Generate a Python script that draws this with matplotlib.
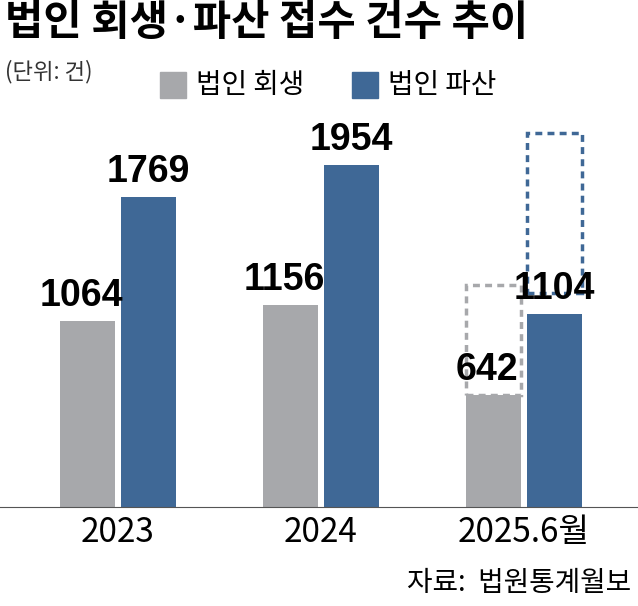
import matplotlib
matplotlib.use("Agg")
import matplotlib.pyplot as plt
from matplotlib.patches import Rectangle

plt.rcParams['font.family'] = ['Noto Sans CJK KR', 'DejaVu Sans']

years = ["2023", "2024", "2025.6월"]
rehab = [1064, 1156, 642]
bankrupt = [1769, 1954, 1104]
proj_rehab = 1270
proj_bankrupt = 2140
gray = "#a7a8ab"
blue = "#3f6896"

fig = plt.figure(figsize=(6.38, 6.06), dpi=100)
ax = fig.add_axes([0, 99/606, 1, 407/606])
ax.set_xlim(-0.581, 2.562)
ax.set_ylim(0, 2326)
w = 0.271; off = 0.151
numfont = ['Liberation Sans Narrow', 'Liberation Sans']
for i in range(3):
    ax.bar(i - off, rehab[i], w, color=gray)
    ax.bar(i + off, bankrupt[i], w, color=blue)
    ax.text(i - off - 0.03, rehab[i] + 40, str(rehab[i]), ha='center', va='bottom',
            fontsize=27, fontweight='bold', family=numfont)
    ax.text(i + off, bankrupt[i] + 40, str(bankrupt[i]), ha='center', va='bottom',
            fontsize=27, fontweight='bold', family=numfont)
ax.add_patch(Rectangle((2 - off - w/2, rehab[2]), w, proj_rehab - rehab[2], fill=False,
                       ls=(0, (2, 1.5)), lw=2.5, ec=gray))
ax.add_patch(Rectangle((2 + off - w/2, bankrupt[2] + 120), w, proj_bankrupt - bankrupt[2] - 120,
                       fill=False, ls=(0, (2, 1.5)), lw=2.5, ec=blue))
for s in ['top', 'right', 'left']:
    ax.spines[s].set_visible(False)
ax.spines['bottom'].set_color('#555555')
ax.set_yticks([])
ax.set_xticks(range(3))
ax.set_xticklabels(years, fontsize=24)
ax.tick_params(axis='x', length=0, pad=6)

fig.text(0.008, 0.962, "법인 회생·파산 접수 건수 추이", fontsize=30, fontweight='bold', va='center')
fig.text(0.008, 0.882, "(단위: 건)", fontsize=16, va='center', color='#333333')
fig.patches.append(Rectangle((160/638, 1-98/606), 26/638, 26/606, transform=fig.transFigure, color=gray))
fig.text(196/638, 1-85/606, "법인 회생", fontsize=20, va='center')
fig.patches.append(Rectangle((352/638, 1-98/606), 26/638, 26/606, transform=fig.transFigure, color=blue))
fig.text(388/638, 1-85/606, "법인 파산", fontsize=20, va='center')
fig.text(0.99, 1-583/606, "자료:  법원통계월보", fontsize=20, ha='right', va='center')
fig.savefig("out.png", dpi=100)
